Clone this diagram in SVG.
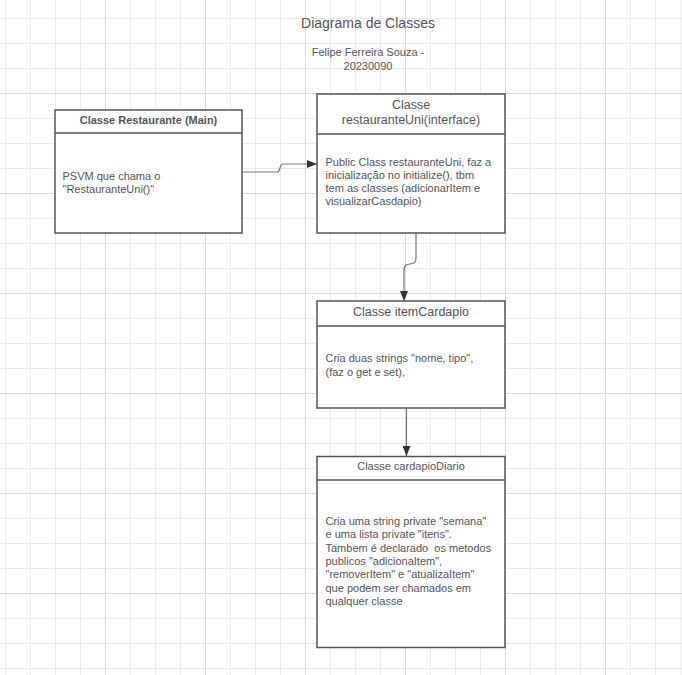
<svg xmlns="http://www.w3.org/2000/svg" width="682" height="675" viewBox="0 0 682 675">
<style>
.minor{stroke:#ebebeb;stroke-width:1;fill:none}
.major{stroke:#dadada;stroke-width:1;fill:none}
.box{fill:#fff;stroke:#555;stroke-width:1.5}
.sep{stroke:#555;stroke-width:1.5;fill:none}
text{font-family:"Liberation Sans",Arial,sans-serif;fill:#555}
.h{font-size:12.5px;text-anchor:middle}
.b{font-size:11px}
.c{fill:none;stroke:#777;stroke-width:1.2}
</style>
<defs>
<marker id="arr" markerWidth="10" markerHeight="8" refX="10" refY="4" orient="auto" markerUnits="userSpaceOnUse">
<path d="M0,0 L10,4 L0,8 Z" fill="#333"/>
</marker>
</defs>
<rect width="682" height="675" fill="#fff"/>
<g id="grid">
<path class="minor" d="M5.5 0V675M30.5 0V675M55.5 0V675M80.5 0V675M130.5 0V675M155.5 0V675M180.5 0V675M230.5 0V675M255.5 0V675M280.5 0V675M330.5 0V675M355.5 0V675M380.5 0V675M430.5 0V675M455.5 0V675M480.5 0V675M530.5 0V675M555.5 0V675M580.5 0V675M630.5 0V675M655.5 0V675M680.5 0V675M0 18.5H682M0 43.5H682M0 68.5H682M0 118.5H682M0 143.5H682M0 168.5H682M0 218.5H682M0 243.5H682M0 268.5H682M0 318.5H682M0 343.5H682M0 368.5H682M0 418.5H682M0 443.5H682M0 468.5H682M0 518.5H682M0 543.5H682M0 568.5H682M0 618.5H682M0 643.5H682M0 668.5H682"/>
<path class="major" d="M105.5 0V675M205.5 0V675M305.5 0V675M405.5 0V675M505.5 0V675M605.5 0V675M0 93.5H682M0 193.5H682M0 293.5H682M0 393.5H682M0 493.5H682M0 593.5H682"/>
</g>
<g id="title">
<text x="368" y="28" style="font-size:14px;text-anchor:middle">Diagrama de Classes</text>
<text x="368" y="56" style="font-size:11px;text-anchor:middle">Felipe Ferreira Souza -</text>
<text x="368" y="70" style="font-size:11px;text-anchor:middle">20230090</text>
</g>
<g id="connectors">
<path class="c" d="M242,172 L277,172 C281,172 279,164 283,164 L317,164" marker-end="url(#arr)"/>
<path class="c" d="M416,233 L416,258 C416,268 404,260 404,270 L404,301" marker-end="url(#arr)"/>
<path class="c" d="M406.5,408 L406.5,456" marker-end="url(#arr)"/>
</g>
<g id="restaurante">
<rect class="box" x="55" y="110" width="187" height="123"/>
<path class="sep" d="M55,133 H242"/>
<text x="148.5" y="124" style="font-size:11px;font-weight:bold;text-anchor:middle">Classe Restaurante (Main)</text>
<text class="b" x="62.5" y="180">PSVM que chama o</text>
<text class="b" x="62.5" y="193">"RestauranteUni()"</text>
</g>
<g id="restauranteUni">
<rect class="box" x="317" y="94" width="188" height="139"/>
<path class="sep" d="M317,134 H505"/>
<text class="h" x="411" y="109">Classe</text>
<text class="h" x="411" y="124">restauranteUni(interface)</text>
<text class="b" x="325.5" y="166">Public Class restauranteUni, faz a</text>
<text class="b" x="325.5" y="179">inicialização no initialize(), tbm</text>
<text class="b" x="325.5" y="192">tem as classes (adicionarItem e</text>
<text class="b" x="325.5" y="205">visualizarCasdapio)</text>
</g>
<g id="itemCardapio">
<rect class="box" x="317" y="301" width="188" height="107"/>
<path class="sep" d="M317,326 H505"/>
<text class="h" x="411" y="316">Classe itemCardapio</text>
<text class="b" x="325.5" y="362">Cria duas strings "nome, tipo",</text>
<text class="b" x="325.5" y="375.5">(faz o get e set),</text>
</g>
<g id="cardapioDiario">
<rect class="box" x="317" y="456.5" width="188" height="191"/>
<path class="sep" d="M317,480 H505"/>
<text x="411" y="470" style="font-size:11px;text-anchor:middle">Classe cardapioDiario</text>
<text class="b" x="325.5" y="525">Cria uma string private "semana"</text>
<text class="b" x="325.5" y="538.3">e uma lista private "itens".</text>
<text class="b" x="325.5" y="551.6" xml:space="preserve">Tambem é declarado  os metodos</text>
<text class="b" x="325.5" y="564.9">publicos "adicionaItem",</text>
<text class="b" x="325.5" y="578.2">"removerItem" e "atualizaItem"</text>
<text class="b" x="325.5" y="591.5">que podem ser chamados em</text>
<text class="b" x="325.5" y="604.8">qualquer classe</text>
</g>
</svg>
